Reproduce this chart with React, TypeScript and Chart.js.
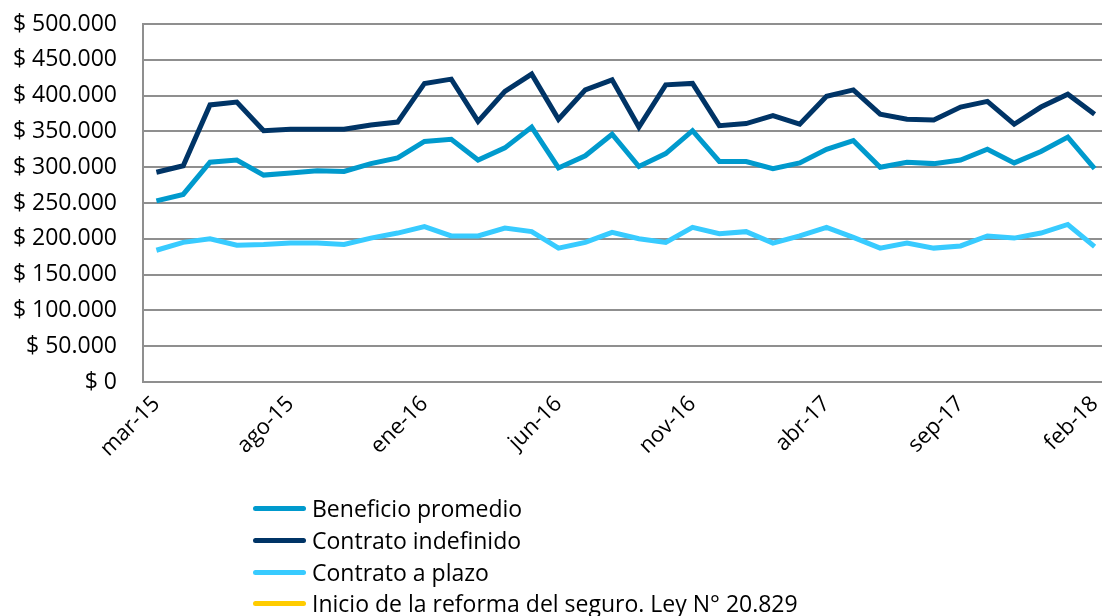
import React, { useEffect, useRef } from "react";
import { Chart, registerables } from "chart.js";

Chart.register(...registerables);

const months = [
  "mar-15", "abr-15", "may-15", "jun-15", "jul-15", "ago-15", "sep-15", "oct-15", "nov-15", "dic-15",
  "ene-16", "feb-16", "mar-16", "abr-16", "may-16", "jun-16", "jul-16", "ago-16", "sep-16", "oct-16",
  "nov-16", "dic-16", "ene-17", "feb-17", "mar-17", "abr-17", "may-17", "jun-17", "jul-17", "ago-17",
  "sep-17", "oct-17", "nov-17", "dic-17", "ene-18", "feb-18",
];

const beneficioPromedio = [
  253000, 262000, 307000, 310000, 289000, 292000, 295000, 294000, 305000, 313000,
  336000, 339000, 310000, 327000, 356000, 299000, 316000, 346000, 301000, 319000,
  351000, 308000, 308000, 298000, 306000, 325000, 337000, 300000, 307000, 305000,
  310000, 325000, 306000, 322000, 342000, 298000,
];

const contratoIndefinido = [
  293000, 302000, 387000, 391000, 351000, 353000, 353000, 353000, 359000, 363000,
  417000, 423000, 364000, 406000, 430000, 367000, 408000, 422000, 356000, 415000,
  417000, 358000, 361000, 372000, 360000, 399000, 408000, 374000, 367000, 366000,
  384000, 392000, 360000, 384000, 402000, 374000,
];

const contratoPlazo = [
  184000, 195000, 200000, 191000, 192000, 194000, 194000, 192000, 201000, 208000,
  217000, 204000, 204000, 215000, 210000, 187000, 195000, 209000, 200000, 195000,
  216000, 207000, 210000, 194000, 204000, 216000, 202000, 187000, 194000, 187000,
  190000, 204000, 201000, 208000, 220000, 189000,
];

const reforma: number[] = [];

const seriesNames = [
  "Beneficio promedio",
  "Contrato indefinido",
  "Contrato a plazo",
  "Inicio de la reforma del seguro. Ley N° 20.829",
];
const seriesColors = ["#009ACD", "#003466", "#38CBFF", "#FFCC00"];

const FONT = "'Open Sans', sans-serif";

function formatPeso(v: number): string {
  const s = Math.round(v).toString().replace(/\B(?=(\d{3})+(?!\d))/g, ".");
  return "$ " + s;
}

export default function App() {
  const ref = useRef<HTMLCanvasElement | null>(null);

  useEffect(() => {
    if (!ref.current) return;
    const data = [beneficioPromedio, contratoIndefinido, contratoPlazo, reforma];
    const chart = new Chart(ref.current, {
      type: "line",
      data: {
        labels: months,
        datasets: data.map((d, i) => ({
          label: seriesNames[i],
          data: d,
          borderColor: seriesColors[i],
          backgroundColor: seriesColors[i],
          borderWidth: 5,
          pointRadius: 0,
          tension: 0,
          fill: false,
        })),
      },
      options: {
        animation: false,
        responsive: false,
        layout: { padding: { top: 24, right: 0, left: 0, bottom: 0 } },
        plugins: {
          legend: { display: false },
          tooltip: { enabled: false },
        },
        scales: {
          x: {
            type: "category",
            offset: true,
            grid: { display: false, drawTicks: false },
            border: { display: true, color: "#8f8f8f", width: 2 },
            ticks: {
              autoSkip: false,
              maxRotation: 45,
              minRotation: 45,
              padding: 9,
              color: "#000",
              font: { family: FONT, size: 22 },
              callback: (_v: any, idx: number) => (idx % 5 === 0 ? months[idx] : ""),
            },
            afterFit: (scale: any) => {
              scale.height = 234;
              scale.paddingRight = 0;
              scale.paddingLeft = 0;
            },
          },
          y: {
            min: 0,
            max: 500000,
            grid: { color: "#8f8f8f", lineWidth: 2, drawTicks: false },
            border: { display: true, color: "#8f8f8f", width: 2 },
            ticks: {
              stepSize: 50000,
              padding: 26,
              color: "#000",
              font: { family: FONT, size: 23 },
              callback: (v: any) => formatPeso(Number(v)),
            },
            afterFit: (scale: any) => {
              scale.width = 143;
              scale.paddingTop = 0;
              scale.paddingBottom = 0;
            },
          },
        },
      },
    });
    return () => chart.destroy();
  }, []);

  const legendTop = [508, 540, 572, 603];

  return (
    <div style={{ position: "absolute", left: 0, top: 0, width: 1102, height: 616, background: "#fff", overflow: "hidden" }}>
      <canvas ref={ref} width={1108} height={616} style={{ width: 1108, height: 616, display: "block" }} />
      {seriesNames.map((n, i) => (
        <div key={n} style={{ position: "absolute", left: 253, top: legendTop[i] - 17, height: 34, display: "flex", alignItems: "center", fontFamily: FONT, fontSize: 23, color: "#000", whiteSpace: "nowrap" }}>
          <span style={{ display: "inline-block", width: 53, height: 5, borderRadius: 3, background: seriesColors[i], marginRight: 6 }} />
          <span>{n}</span>
        </div>
      ))}
    </div>
  );
}
